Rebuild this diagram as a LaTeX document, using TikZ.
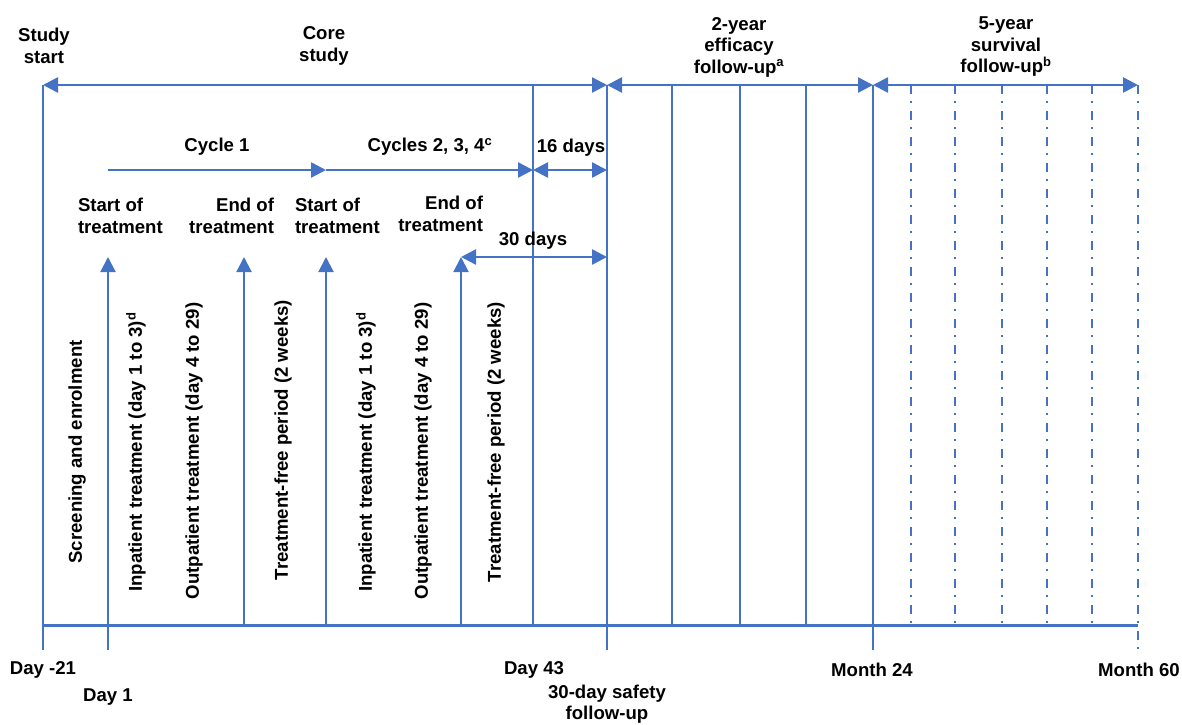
\documentclass[tikz,border=0pt]{standalone}
\usepackage{fontspec}
\setmainfont{Liberation Sans}
\usetikzlibrary{arrows.meta,positioning}
\definecolor{lineblue}{RGB}{68,114,196}

\begin{document}
\begin{tikzpicture}[x=1pt,y=-1pt,draw=lineblue,line width=2pt,
	every node/.append style={font=\bfseries\fontsize{18.6}{21.5}\selectfont}]
    \tikzstyle{tip}=[-{Triangle[length=15pt,width=15pt]}]
    \tikzstyle{both tips}=[{Triangle[length=15pt,width=15pt]}-{Triangle[length=15pt,width=15pt]},line width=2.5pt]
    \tikzstyle{dashdot line}=[dash pattern=on 9pt off 7pt on 2pt off 8pt]
    \tikzstyle{annot}=[align=center,inner sep=0pt]
    \tikzstyle{phase text}=[rotate=90,inner sep=0pt]

    \useasboundingbox (0,0) rectangle (1182,724);

    % Time points along the axis, one coordinate per level
    \foreach \name/\x in {start/43,day1/108,end1/244,start2/326,end2/461,day43/533,
        safety/607,m6/672,m12/740,m18/806,m24/873,y1/911,y2/955,y3/1002,y4/1047,y5/1092,m60/1138}
        \foreach \lev/\y in {top/85,cyc/170,arr/257,axis/625,tick/650}
            \coordinate (\name-\lev) at (\x,\y);

    % Draw the vertical lines
    \draw (start-top) -- (start-tick);
    \draw[tip] (day1-tick) -- (day1-arr);
    \foreach \name in {end1,start2,end2}
        \draw[tip] (\name-axis) -- (\name-arr);
    \draw (day43-top) -- (day43-axis);
    \draw (safety-top) -- (safety-tick);
    \foreach \name in {m6,m12,m18}
        \draw (\name-top) -- (\name-axis);
    \draw (m24-top) -- (m24-tick);
    \foreach \name in {y1,y2,y3,y4,y5}
        \draw[dashdot line] (\name-top) -- (\name-axis);
    \draw[dashdot line] (m60-top) -- (m60-tick);

    % The time axis
    \draw[line width=3pt] (start-axis) -- (m60-axis);

    % Study phases
    \draw[both tips] (start-top) -- (safety-top);
    \draw[both tips] (safety-top) -- (m24-top);
    \draw[both tips] (m24-top) -- (m60-top);

    % Treatment cycles
    \draw[tip,line width=2.5pt] (day1-cyc) -- (start2-cyc);
    \draw[tip,line width=2.5pt] (start2-cyc) -- (day43-cyc);
    \draw[both tips] (day43-cyc) -- (safety-cyc);
    \draw[both tips] (end2-arr) -- (safety-arr);

    % Annotate the phases
    \node[annot] (studystart) at (44,46) {Study\\start};
    \node[annot] (core) at (324,46) {Core\\study};
    \node[annot] (efficacy) at (739,47) {2-year\\efficacy\\follow-up\textsuperscript{a}};
    \node[annot] (survival) at (1006,47) {5-year\\survival\\follow-up\textsuperscript{b}};

    % Annotate the cycles
    \node[annot] (cyc1) at (217,147) {Cycle 1};
    \node[annot] (cyc234) at (430,147) {Cycles 2, 3, 4\textsuperscript{c}};
    \node[annot] (days16) at (571,148) {16 days};
    \node[annot] (days30) at (533,241) {30 days};
    \node[annot,align=left,anchor=west] (st1) at (77,216) {Start of\\treatment};
    \node[annot,align=right,anchor=east] (en1) at (275,216) {End of\\treatment};
    \node[annot,align=left,anchor=west] (st2) at (294,216) {Start of\\treatment};
    \node[annot,align=right,anchor=east] (en2) at (484,214) {End of\\treatment};

    % Periods between the time points
    \node[phase text] (screen) at (77,452) {Screening and enrolment};
    \node[phase text] (inp1) at (136,452) {Inpatient treatment (day 1 to 3)\textsuperscript{d}};
    \node[phase text] (outp1) at (194,451) {Outpatient treatment (day 4 to 29)};
    \node[phase text] (free1) at (283,440) {Treatment-free period (2 weeks)};
    \node[phase text] (inp2) at (366,452) {Inpatient treatment (day 1 to 3)\textsuperscript{d}};
    \node[phase text] (outp2) at (423,451) {Outpatient treatment (day 4 to 29)};
    \node[phase text] (free2) at (496,442) {Treatment-free period (2 weeks)};

    % Annotate the axis
    \node[annot] (lday-21) at (43,670) {Day -21};
    \node[annot] (lday1) at (108,697) {Day 1};
    \node[annot] (lday43) at (534,670) {Day 43};
    \node[annot] (lsafety) at (607,704) {30-day safety\\follow-up};
    \node[annot] (lm24) at (872,670) {Month 24};
    \node[annot] (lm60) at (1139,670) {Month 60};
\end{tikzpicture}
\end{document}
